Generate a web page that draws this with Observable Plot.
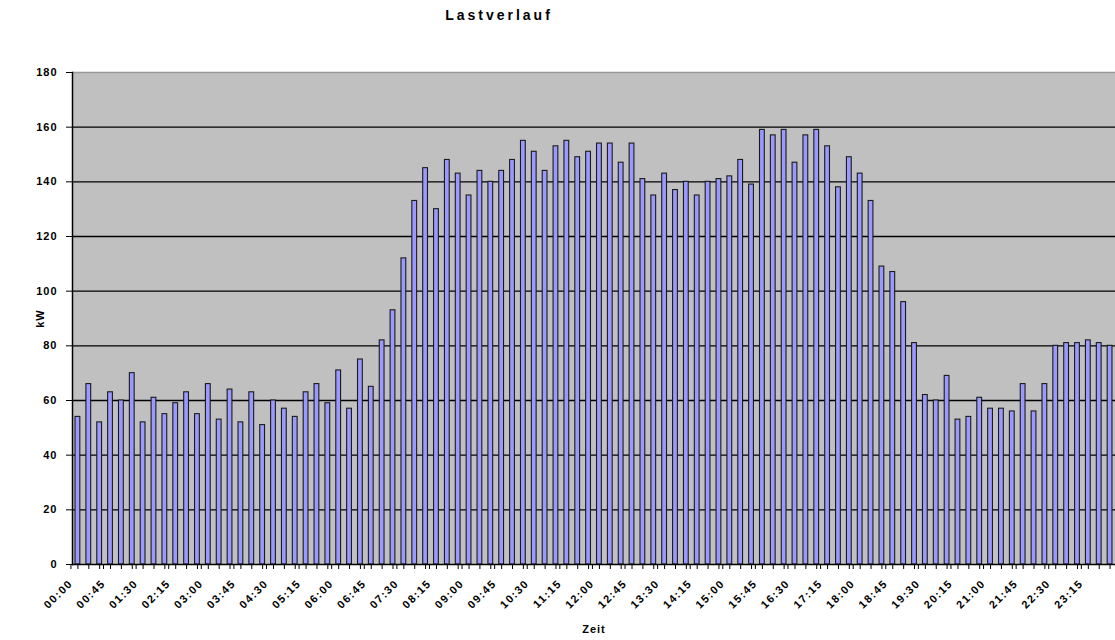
<!DOCTYPE html>
<html>
<head>
<meta charset="utf-8">
<script src="https://cdn.jsdelivr.net/npm/d3@7"></script>
<script src="https://cdn.jsdelivr.net/npm/@observablehq/plot@0.6"></script>
<style>
  body { margin: 0; background: #fff; overflow: hidden; }
  #title { position: relative; height: 30px; }
  #title span { position: absolute; top: 7px; left: 0; width: 998px; text-align: center;
           font: bold 14px "Liberation Sans", Arial, sans-serif; letter-spacing: 3px; color: #000; line-height: 16px; }
  g[aria-label="y-axis tick label"] text { letter-spacing: 1px; }
  g[aria-label="x-axis tick label"] text { letter-spacing: 1.5px; }
  g[aria-label="x-axis label"] text, g[aria-label="y-axis label"] text { letter-spacing: 1px; }
</style>
</head>
<body>
<div id="title"><span>Lastverlauf</span></div>
<div id="chart"></div>
<script>
// 15-minute intervals
const times = [
  "00:00","00:15","00:30","00:45","01:00","01:15","01:30","01:45",
  "02:00","02:15","02:30","02:45","03:00","03:15","03:30","03:45",
  "04:00","04:15","04:30","04:45","05:00","05:15","05:30","05:45",
  "06:00","06:15","06:30","06:45","07:00","07:15","07:30","07:45",
  "08:00","08:15","08:30","08:45","09:00","09:15","09:30","09:45",
  "10:00","10:15","10:30","10:45","11:00","11:15","11:30","11:45",
  "12:00","12:15","12:30","12:45","13:00","13:15","13:30","13:45",
  "14:00","14:15","14:30","14:45","15:00","15:15","15:30","15:45",
  "16:00","16:15","16:30","16:45","17:00","17:15","17:30","17:45",
  "18:00","18:15","18:30","18:45","19:00","19:15","19:30","19:45",
  "20:00","20:15","20:30","20:45","21:00","21:15","21:30","21:45",
  "22:00","22:15","22:30","22:45","23:00","23:15","23:30","23:45"
];
// Load in kW
const kw = [
  54,66,52,63,60,70,52,61,55,59,
  63,55,66,53,64,52,63,51,60,57,
  54,63,66,59,71,57,75,65,82,93,
  112,133,145,130,148,143,135,144,140,144,
  148,155,151,144,153,155,149,151,154,154,
  147,154,141,135,143,137,140,135,140,141,
  142,148,139,159,157,159,147,157,159,153,
  138,149,143,133,109,107,96,81,62,60,
  69,53,54,61,57,57,56,66,56,66,
  80,81,81,82,81,80
];
// labelled ticks (every 45 minutes)
const tickLabels = [
  "00:00","00:45","01:30","02:15","03:00","03:45","04:30","05:15",
  "06:00","06:45","07:30","08:15","09:00","09:45","10:30","11:15",
  "12:00","12:45","13:30","14:15","15:00","15:45","16:30","17:15",
  "18:00","18:45","19:30","20:15","21:00","21:45","22:30","23:15"
];
const yTicks = [0,20,40,60,80,100,120,140,160,180];
const gridValues = [20,40,60,80,100,120,140,160];

const data = times.map((t, i) => ({time: t, kw: kw[i]}));

const chart = Plot.plot({
  width: 1115,
  height: 610,
  marginTop: 42,
  marginBottom: 76,
  marginLeft: 72,
  marginRight: 0,
  style: {fontFamily: '"Liberation Sans", Arial, sans-serif', fontSize: "10px", fontWeight: "bold", color: "#000", background: "#fff"},
  x: {domain: times, paddingInner: 0.56, paddingOuter: 0.28},
  y: {domain: [0, 180]},
  marks: [
    Plot.frame({fill: "#c0c0c0", stroke: null}),
    Plot.ruleY([180], {stroke: "#999", strokeWidth: 1.5}),
    Plot.ruleY(gridValues, {stroke: "#000", strokeWidth: 1.3}),
    Plot.barY(data, {x: "time", y: "kw", fill: "#9999ff", stroke: "#1a1a1a", strokeWidth: 1.1}),
    Plot.ruleY([0], {stroke: "#000", strokeWidth: 1.5}),
    Plot.frame({anchor: "left", stroke: "#000", strokeWidth: 1.5}),
    Plot.axisY({ticks: yTicks, tickSize: 6, tickPadding: 9, label: "kW", labelAnchor: "center", labelOffset: 36, labelArrow: false, fontSize: 11}),
    Plot.axisX({ticks: times, tickSize: 5, tickFormat: () => "", label: null}),
    Plot.axisX({ticks: tickLabels, tickSize: 5, tickRotate: -45, tickPadding: 12, dx: -7, textAnchor: "end", label: "Zeit", labelAnchor: "center", labelOffset: 68, labelArrow: false, fontSize: 11})
  ]
});
document.getElementById("chart").appendChild(chart);
</script>
</body>
</html>
